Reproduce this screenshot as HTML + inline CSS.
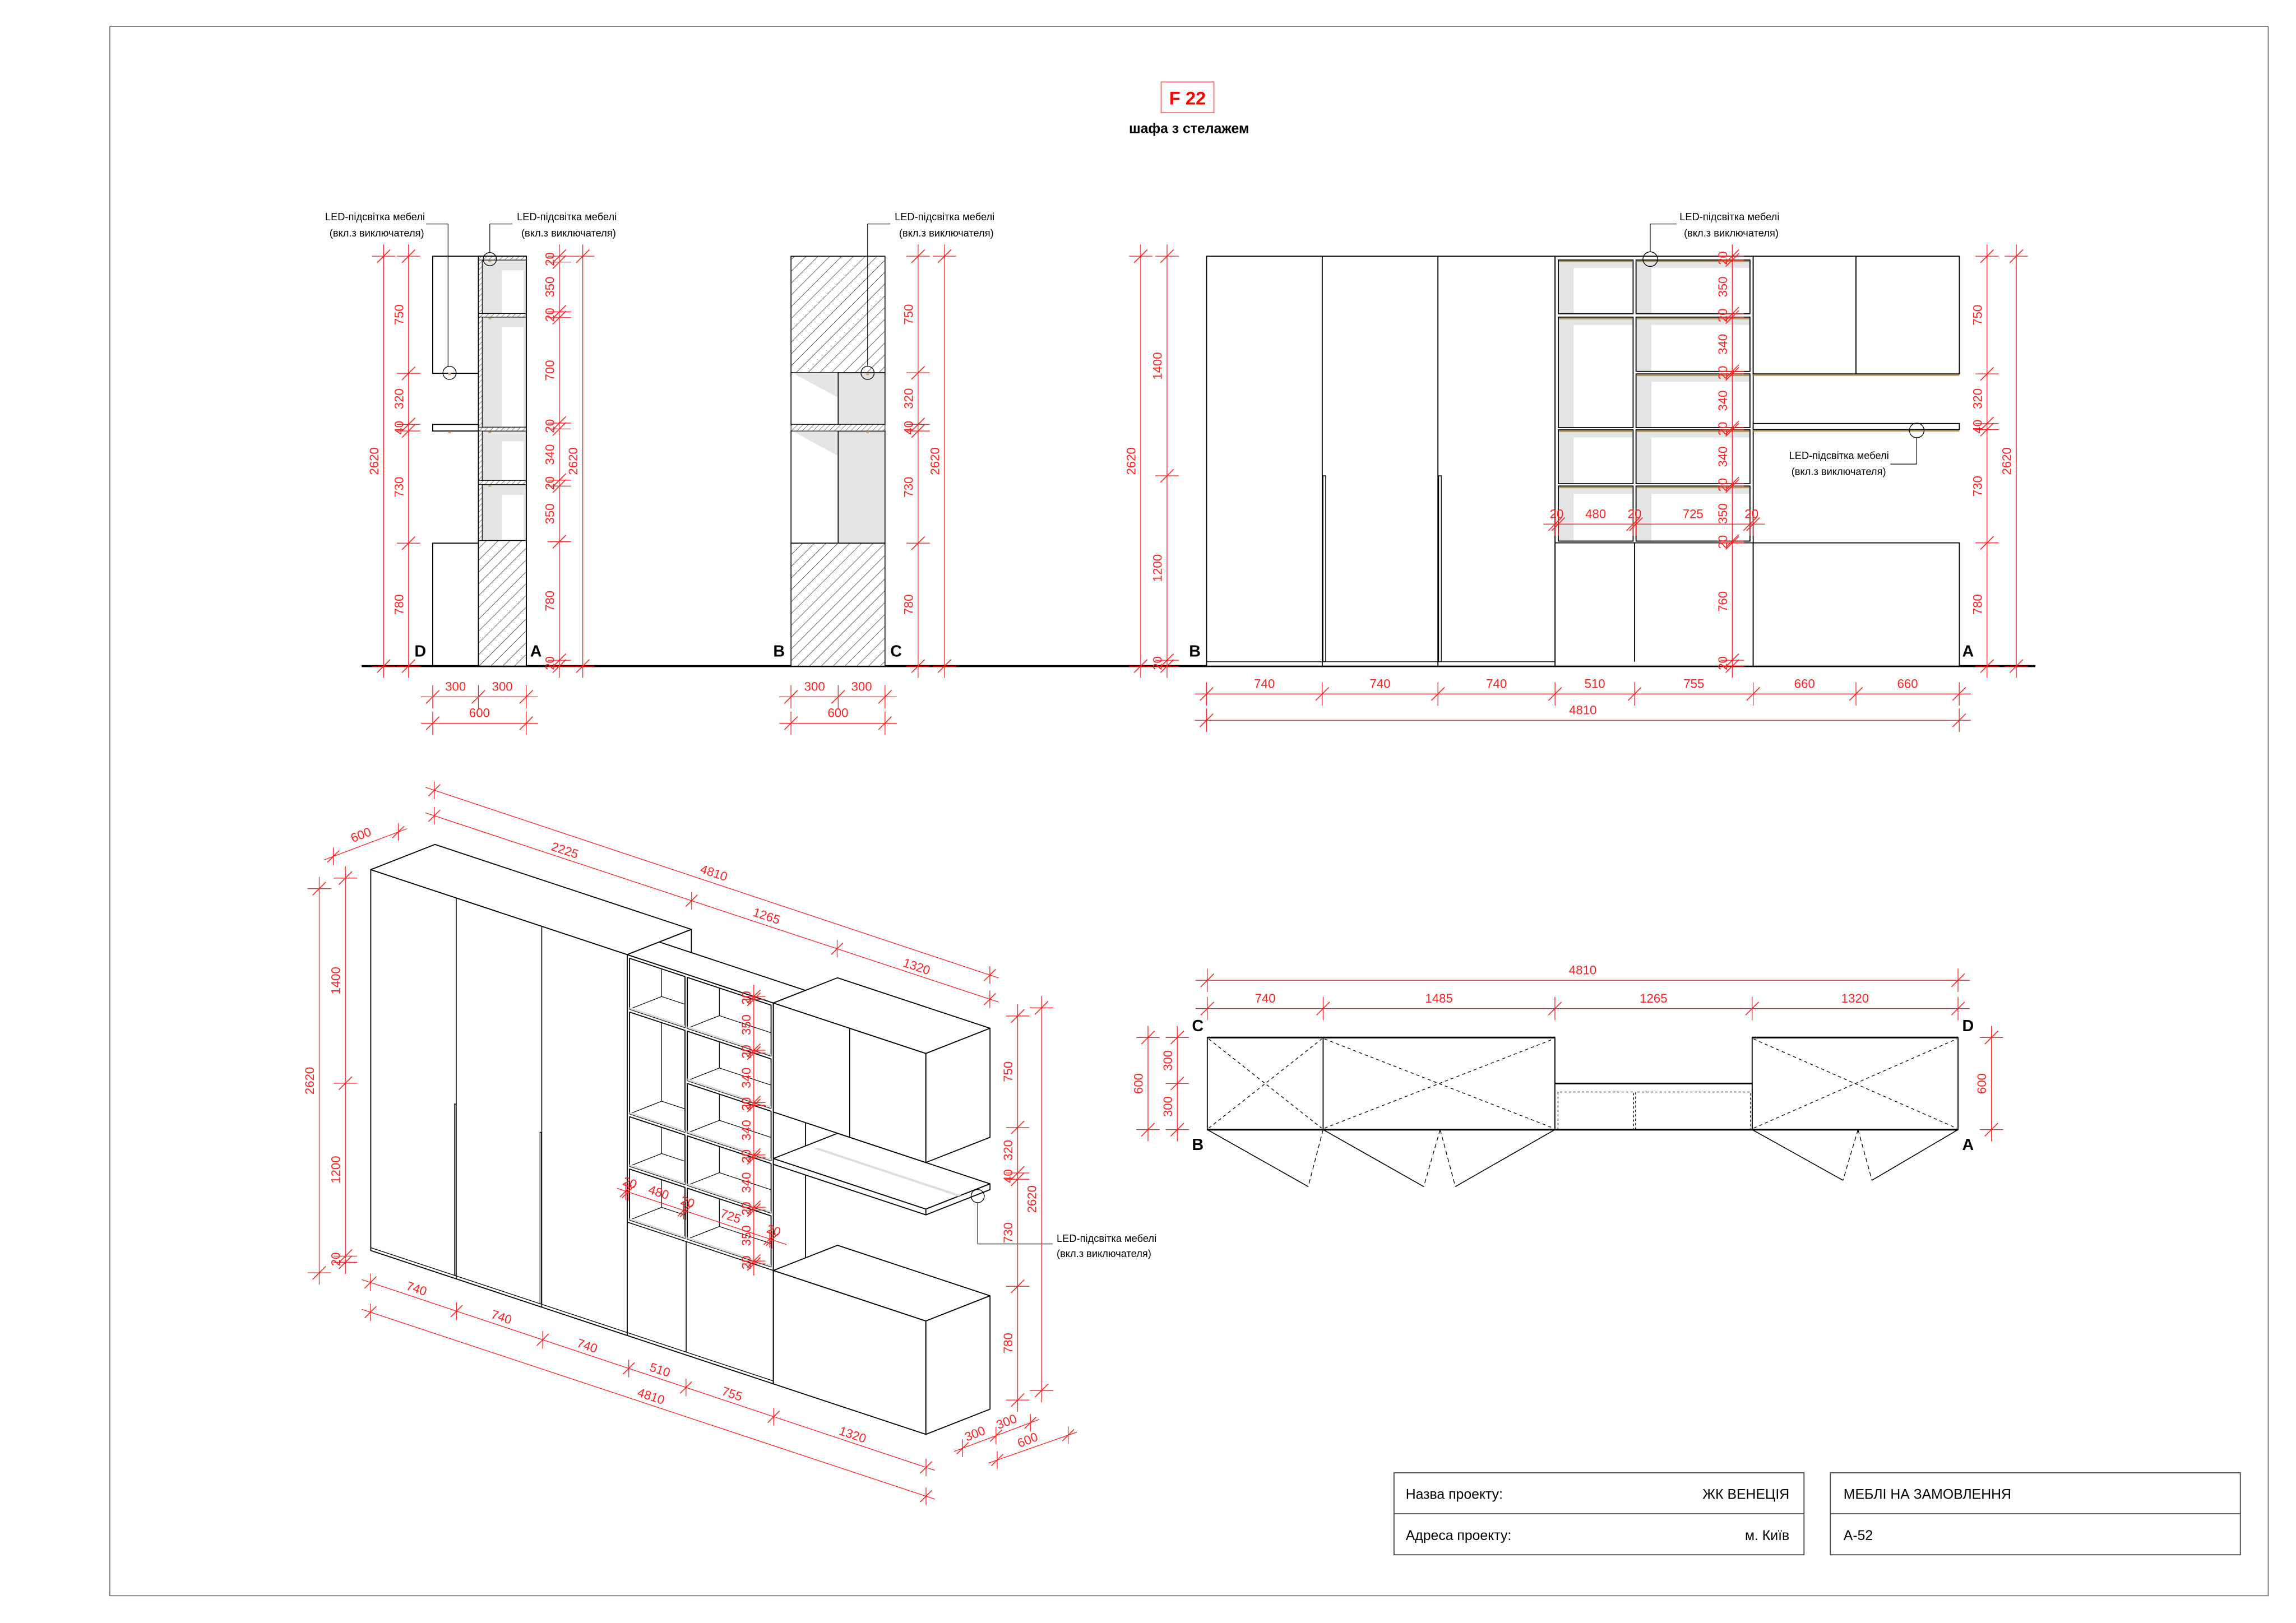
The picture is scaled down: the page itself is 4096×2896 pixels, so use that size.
<!DOCTYPE html>
<html><head><meta charset="utf-8">
<style>
html,body{margin:0;padding:0;background:#fff;}
svg{display:block;}
text{font-family:"Liberation Sans","DejaVu Sans",sans-serif;}
</style></head>
<body>
<svg id="s" xmlns="http://www.w3.org/2000/svg" width="4096" height="2896" viewBox="0 0 1568 1108.6" preserveAspectRatio="none">
<defs>
<pattern id="h" patternUnits="userSpaceOnUse" width="5.7" height="5.7" patternTransform="rotate(45)"><rect width="5.7" height="5.7" fill="#fff"/><line x1="0" y1="0" x2="0" y2="5.7" stroke="#000" stroke-width="0.45"/></pattern>
<pattern id="h2" patternUnits="userSpaceOnUse" width="2.6" height="2.6" patternTransform="rotate(45)"><rect width="2.6" height="2.6" fill="#fff"/><line x1="0" y1="0" x2="0" y2="2.6" stroke="#000" stroke-width="0.35"/></pattern>
</defs>
<rect x="0" y="0" width="1568" height="1108.6" fill="#fff"/>
<rect x="75" y="18" width="1474" height="1072" fill="none" stroke="#666" stroke-width="0.6"/>
<rect x="793" y="56" width="36" height="21" fill="none" stroke="#f66" stroke-width="0.7"/>
<text x="811" y="67" font-size="12.5" font-weight="bold" fill="#f00" text-anchor="middle" dominant-baseline="central">F 22</text>
<text x="812" y="88" font-size="9.5" font-weight="bold" fill="#000" text-anchor="middle" dominant-baseline="central">шафа з стелажем</text>
<!-- title block -->
<rect x="952" y="1006" width="280" height="56" fill="none" stroke="#444" stroke-width="0.7"/>
<line x1="952" y1="1034" x2="1232" y2="1034" stroke="#444" stroke-width="0.7"/>
<rect x="1250" y="1006" width="280" height="56" fill="none" stroke="#444" stroke-width="0.7"/>
<line x1="1250" y1="1034" x2="1530" y2="1034" stroke="#444" stroke-width="0.7"/>
<text x="960" y="1021" font-size="9.5" fill="#000" dominant-baseline="central">Назва проекту:</text>
<text x="1222" y="1021" font-size="9.5" fill="#000" text-anchor="end" dominant-baseline="central">ЖК ВЕНЕЦІЯ</text>
<text x="960" y="1049" font-size="9.5" fill="#000" dominant-baseline="central">Адреса проекту:</text>
<text x="1222" y="1049" font-size="9.5" fill="#000" text-anchor="end" dominant-baseline="central">м. Київ</text>
<text x="1259" y="1021" font-size="9.5" fill="#000" dominant-baseline="central">МЕБЛІ НА ЗАМОВЛЕННЯ</text>
<text x="1259" y="1049" font-size="9.5" fill="#000" dominant-baseline="central">А-52</text>
</svg>
<script>
const S=document.getElementById('s');
const NS='http://www.w3.org/2000/svg';
function E(t,a,p){const e=document.createElementNS(NS,t);for(const k in a)e.setAttribute(k,a[k]);(p||S).appendChild(e);return e;}
function L(x1,y1,x2,y2,c,w,d){const a={x1,y1,x2,y2,stroke:c||'#000','stroke-width':w||0.7};if(d)a['stroke-dasharray']=d;return E('line',a);}
function R(x,y,w,h,f,c,sw){return E('rect',{x,y,width:w,height:h,fill:f||'none',stroke:c||'#000','stroke-width':sw==null?0.7:sw});}
function T(x,y,s,o){o=o||{};const e=E('text',{x,y,'font-size':o.size||8.5,fill:o.fill||RED,'text-anchor':o.anchor||'middle','font-weight':o.weight||'normal','dominant-baseline':'central'});if(o.rot!=null)e.setAttribute('transform','rotate('+o.rot+' '+x+' '+y+')');e.textContent=s;return e;}
const RED='#ff1f1f';
function tk(x,y){L(x-4.5,y+4.5,x+4.5,y-4.5,RED,0.6);}
function vdim(x,ys,labs,off){off=off||-6.5;L(x,ys[0]-8,x,ys[ys.length-1]+8,RED,0.5);ys.forEach(y=>{tk(x,y);L(x-8,y,x+8,y,RED,0.5);});labs.forEach((s,i)=>{if(s)T(x+off,(ys[i]+ys[i+1])/2,s,{rot:-90});});}
function hdim(y,xs,labs){L(xs[0]-8,y,xs[xs.length-1]+8,y,RED,0.5);xs.forEach(x=>{tk(x,y);L(x,y-8,x,y+8,RED,0.5);});labs.forEach((s,i)=>{if(s)T((xs[i]+xs[i+1])/2,y-7,s);});}
function blk(x,y,s){T(x,y,s,{fill:'#000',weight:'bold',size:11});}
function led(x,y,lines,anchor){T(x,y,lines[0],{fill:'#000',size:7,anchor:anchor||'start'});T(x+(anchor==='end'?0:3),y+11,lines[1],{fill:'#000',size:7,anchor:anchor||'start'});}
const LT=['LED-підсвітка мебелі','(вкл.з виключателя)'];
function circ(x,y,r){E('circle',{cx:x,cy:y,r:r||4.5,fill:'none',stroke:'#000','stroke-width':0.5});}
function dot(x,y){R(x-1,y-0.7,2,1.4,'#c8a96e','none',0);}

// ground line
L(247,455,1390,455,'#000',1.4);

// ===== Elevation 1 (D-A)
R(295.5,175,31.2,80);R(295.5,289.9,31.2,4.5);R(295.5,371,31.2,84);
R(326.7,175,32.7,280,'#fff');
[[177.6,214.2],[216.6,291.8],[294.4,328.2],[331,369.2]].forEach(c=>{
 R(329.3,c[0],30.1,c[1]-c[0],'#e4e4e4','none',0);
 R(342.9,c[0]+7,14.6,c[1]-c[0]-7,'#fff','none',0);
 R(329.3,c[0],30.1,c[1]-c[0],'none','#000',0.5);
 dot(334.5,c[0]+0.8);
});
R(326.7,175,2.6,195,'url(#h2)','#000',0.4);
[[175,177.6],[214.2,216.6],[291.8,294.4],[328.2,331]].forEach(s=>R(326.7,s[0],32.7,s[1]-s[0],'url(#h2)','#000',0.4));
R(326.7,369.2,32.7,85.8,'url(#h)','#000',0.6);
R(326.7,175,32.7,280,'none','#000',0.7);
dot(307,255.5);dot(307,295.3);
circ(307,254.7);circ(334.5,177);
L(291,153,306,153,'#000',0.45);L(306,153,306,250.2,'#000',0.45);
L(334.5,172.5,334.5,153,'#000',0.45);L(334.5,153,350,153,'#000',0.45);
led(222,148,LT);led(353,148,LT);
blk(287,445,'D');blk(366,445,'A');
vdim(262,[175,455],['2620']);
vdim(279,[175,255,289.9,294.4,371,455],['750','320','40','730','780']);
vdim(382,[175,179,213,217,289,293,328,332,370,451,455],['20','350','20','700','20','340','20','350','780','20']);
vdim(398,[175,455],['2620']);
hdim(476,[295.5,326.7,359.4],['300','300']);
hdim(494,[295.5,359.4],['600']);

// ===== Elevation 2 (B-C)
R(540.2,175,64.2,79.6,'url(#h)','#000',0.6);
[[254.6,289.9],[294.4,371]].forEach(c=>{
 R(540.2,c[0],32.2,c[1]-c[0],'#fff','#000',0.6);
 E('polygon',{points:`541,${c[0]} 572.4,${c[0]} 572.4,${c[0]+17}`,fill:'#e4e4e4'});
 R(572.4,c[0],32,c[1]-c[0],'#e4e4e4','#000',0.6);
});
R(540.2,289.9,64.2,4.5,'url(#h2)','#000',0.4);
R(540.2,371,64.2,84,'url(#h)','#000',0.6);
dot(592.5,255.5);dot(592.5,295.2);
circ(592.5,254.7);
L(592.5,250.2,592.5,153,'#000',0.45);L(592.5,153,608,153,'#000',0.45);
led(611,148,LT);
blk(532,445,'B');blk(612,445,'C');
vdim(627,[175,254.6,289.9,294.4,371,455],['750','320','40','730','780']);
vdim(645,[175,455],['2620']);
hdim(476,[540.2,572.4,604.4],['300','300']);
hdim(494,[540.2,604.4],['600']);

// ===== Elevation 3 (B-A)
R(824,175,238,280,'#fff');
L(903,175,903,455);L(982,175,982,455);
R(903.5,325,1.8,127,'#fff','#000',0.5);R(982.5,325,1.8,127,'#fff','#000',0.5);
L(824,452,1197,452,'#000',0.5);
R(1062,175,135.3,280,'#fff');
function cell3(x0,x1,y0,y1){R(x0,y0,x1-x0,y1-y0,'#e4e4e4','none',0);R(x0+10.5,y0+5.3,x1-x0-10.5,y1-y0-5.3,'#fff','none',0);R(x0,y0,x1-x0,y1-y0,'none','#000',0.7);L(x0+0.5,y0+1,x1-0.5,y0+1,'#b39a5e',1);}
[[177.6,214.3],[216.6,292.1],[293.6,330.4],[332,369.6]].forEach(c=>cell3(1064.2,1115.3,c[0],c[1]));
[[177.6,214.3],[216.6,253.7],[255.4,292.1],[293.6,330.4],[332,369.6]].forEach(c=>cell3(1117.3,1195.1,c[0],c[1]));
L(1062,370.8,1197.3,370.8);L(1116.3,370.8,1116.3,452);
R(1197.3,175,140.8,80.4,'#fff');L(1267.5,175,1267.5,255.4);L(1197.3,256.2,1338,256.2,'#b39a5e',1);
R(1197.3,289.3,140.8,4.1,'#fff');L(1197.3,294.3,1338,294.3,'#b39a5e',1);
R(1197.3,370.8,140.8,84.2,'#fff');
circ(1127,177,5);L(1127,172,1127,153,'#000',0.45);L(1127,153,1145,153,'#000',0.45);
led(1147,148,LT);
circ(1309,294,5);L(1309,299,1309,317,'#000',0.45);L(1309,317,1291,317,'#000',0.45);
T(1290,311,LT[0],{fill:'#000',size:7,anchor:'end'});T(1288,322,LT[1],{fill:'#000',size:7,anchor:'end'});
blk(816,445,'B');blk(1344,445,'A');
vdim(779,[175,455],['2620']);
vdim(797,[175,325,451,455],['1400','1200','20']);
vdim(1183,[175,177.6,214.3,216.6,253.7,255.4,292.1,293.6,330.4,332,369.6,370.8,451,455],['20','350','20','340','20','340','20','340','20','350','20','760','20']);
vdim(1357,[175,255.4,289.3,293.4,370.8,455],['750','320','40','730','780']);
vdim(1377,[175,455],['2620']);
hdim(358,[1062,1064.2,1115.3,1117.3,1195.1,1197.3],['20','480','20','725','20']);
hdim(474,[824,903,982,1062,1116.3,1197.3,1267.5,1338],['740','740','740','510','755','660','660']);
hdim(492,[824,1338],['4810']);

// ===== Plan
const PT=708.7,PB=771.6;
R(824.5,PT,79.1,PB-PT,'#fff');R(903.6,PT,158.3,PB-PT,'#fff');R(1196.6,PT,140.6,PB-PT,'#fff');
L(824.5,PT,903.6,PT,'#000',1.2);L(903.6,PT,1061.9,PT,'#000',1.2);L(1196.6,PT,1337.2,PT,'#000',1.2);
R(1061.9,740.1,134.7,PB-740.1,'#fff');L(1061.9,740.1,1196.6,740.1,'#000',1.1);
L(824.5,PB,1337.2,PB,'#000',1.2);
const DS='2.2,2';
[[824.5,903.6],[903.6,1061.9],[1196.6,1337.2]].forEach(b=>{L(b[0]+1,PT+1,b[1]-1,PB-1,'#000',0.5,DS);L(b[0]+1,PB-1,b[1]-1,PT+1,'#000',0.5,DS);});
E('polyline',{points:'1064,771.6 1064,745.9 1115.6,745.9 1115.6,771.6',fill:'none',stroke:'#000','stroke-width':0.5,'stroke-dasharray':'1.6,1.4'});
E('polyline',{points:'1117,771.6 1117,745.9 1195.5,745.9 1195.5,771.6',fill:'none',stroke:'#000','stroke-width':0.5,'stroke-dasharray':'1.6,1.4'});
L(824.5,PB,893.4,810.5,'#000',0.6);L(903.6,PB,893.4,810.5,'#000',0.5,'3,2');
L(903.6,PB,972.3,810.5,'#000',0.6);L(983.5,PB,972.3,810.5,'#000',0.5,'3,2');
L(983.5,PB,993.9,810.5,'#000',0.5,'3,2');L(1061.9,PB,993.9,810.5,'#000',0.6);
L(1196.6,PB,1258.6,806.2,'#000',0.6);L(1268.9,PB,1258.6,806.2,'#000',0.5,'3,2');
L(1268.9,PB,1278.4,806.2,'#000',0.5,'3,2');L(1337.2,PB,1278.4,806.2,'#000',0.6);
blk(818,701,'C');blk(1344,701,'D');blk(818,782,'B');blk(1344,782,'A');
hdim(669.6,[824.5,1337.2],['4810']);
hdim(688.9,[824.5,903.6,1061.9,1196.6,1337.2],['740','1485','1265','1320']);
vdim(804,[PT,740.1,PB],['300','300']);
vdim(784,[PT,PB],['600']);
vdim(1360,[PT,PB],['600']);

// ===== Isometric
const P=(X,Y,Z)=>[253.2+0.0789*X+0.073*Y, 854.2+0.02613*X-0.0287*Y-0.0993*Z];
function PG(pts,f,c,w){return E('polygon',{points:pts.map(p=>p[0].toFixed(2)+','+p[1].toFixed(2)).join(' '),fill:f||'#fff',stroke:c||'#000','stroke-width':w||0.7,'stroke-linejoin':'round'});}
function IL(a,b,w,c,d){L(a[0],a[1],b[0],b[1],c||'#000',w||0.6,d);}
function box(x0,x1,y0,y1,z0,z1){PG([P(x0,y0,z0),P(x1,y0,z0),P(x1,y0,z1),P(x0,y0,z1)]);PG([P(x0,y0,z1),P(x1,y0,z1),P(x1,y1,z1),P(x0,y1,z1)]);PG([P(x1,y0,z0),P(x1,y1,z0),P(x1,y1,z1),P(x1,y0,z1)]);}
// wardrobe
box(0,2220,0,600,0,2620);
IL(P(740,0,0),P(740,0,2620));IL(P(1480,0,0),P(1480,0,2620));
IL(P(0,0,20),P(2220,0,20),0.5);
PG([P(725,0,20),P(737,0,20),P(737,0,1200),P(725,0,1200)],'#fff','#000',0.5);
PG([P(1465,0,20),P(1477,0,20),P(1477,0,1200),P(1465,0,1200)],'#fff','#000',0.5);
// shelving
box(2220,3485,0,300,0,2620);
IL(P(2220,0,20),P(3485,0,20),0.5);IL(P(2730,0,20),P(2730,0,780));
IL(P(2220,0,780),P(3485,0,780),0.6);
let cid=0;
function icell(x0,x1,z0,z1){
 const pts=[P(x0,0,z0),P(x1,0,z0),P(x1,0,z1),P(x0,0,z1)];
 PG(pts,'#fff','#000',0.7);
 const id='c'+(cid++);
 const cp=E('clipPath',{id});E('polygon',{points:pts.map(p=>p.join(',')).join(' ')},cp);
 const g=E('g',{'clip-path':'url(#'+id+')'});
 const ln=(a,b)=>E('line',{x1:a[0],y1:a[1],x2:b[0],y2:b[1],stroke:'#000','stroke-width':0.45},g);
 ln(P(x0,300,z0),P(x0,300,z1));ln(P(x0,0,z0),P(x0,300,z0));ln(P(x0,300,z0),P(x1+400,300,z0));
 E('polygon',{points:[P(x0,0,z0),P(x1,0,z0),P(x1,0,z0+14),P(x0,0,z0+14)].map(p=>p.join(',')).join(' '),fill:'#ddd'},g);
}
[[2250,2600],[1530,2230],[1170,1510],[800,1150]].forEach(c=>icell(2240,2720,c[0],c[1]));
[[2250,2600],[1890,2230],[1530,1870],[1170,1510],[800,1150]].forEach(c=>icell(2740,3465,c[0],c[1]));
// right units
box(3485,4805,0,600,0,780);
box(3485,4805,0,600,1510,1550);
box(3485,4805,0,600,1870,2620);
IL(P(4145,0,1870),P(4145,0,2620));
PG([P(3560,300,1550),P(4805,300,1550),P(4805,330,1550),P(3560,330,1550)],'#ddd','none',0);
// LED iso
circ(667.7,817,4.5);L(667.7,821.5,667.7,849.7,'#000',0.45);L(667.7,849.7,718.9,849.7,'#000',0.45);
T(721.6,845.8,LT[0],{fill:'#000',size:7,anchor:'start'});T(721.6,856.2,LT[1],{fill:'#000',size:7,anchor:'start'});

// iso dimensions
function seg(a,b){L(a[0],a[1],b[0],b[1],RED,0.5);}
function itk(x,y){L(x-4,y+4,x+4,y-4,RED,0.6);L(x,y-6,x,y+6,RED,0.5);}
const AL=18.3, AD=-21.5;
function lineTicks(a,b,xs){seg([a[0]-6,a[1]-6*(b[1]-a[1])/(b[0]-a[0])],[b[0]+6,b[1]+6*(b[1]-a[1])/(b[0]-a[0])]);xs.forEach(x=>{const y=a[1]+(x-a[0])*(b[1]-a[1])/(b[0]-a[0]);itk(x,y);});}
lineTicks([296.6,539.8],[676,666],[296.6,676]);T(487.5,596.2,'4810',{rot:AL});
lineTicks([296.6,557.2],[676,682.5],[296.6,472.3,571.7,676]);
T(385.8,580.8,'2225',{rot:AL});T(523.5,625.7,'1265',{rot:AL});T(626,660.2,'1320',{rot:AL});
lineTicks([227.6,585],[272,568.3],[227.6,272]);T(246.5,570.3,'600',{rot:AD});
// left verticals
vdim(218,[607,869.4],['2620']);
vdim(235.9,[599.8,739.9,858,862.2],['1400','1200','20']);
// bottom
lineTicks([253,876],[632.4,1002.3],[253,311.8,370.6,429.4,468.5,528.4,632.4]);
T(284.5,880.2,'740',{rot:AL});T(342.5,899.6,'740',{rot:AL});T(401,919.3,'740',{rot:AL});
T(450.7,935.7,'510',{rot:AL});T(500,952.1,'755',{rot:AL});T(582.3,980,'1320',{rot:AL});
lineTicks([253,896.3],[632.4,1022],[253,632.4]);T(444.6,953.7,'4810',{rot:AL});
// right verticals
vdim(695,[694,770.1,801.2,805.5,878.6,956.3],['750','320','40','730','780']);
vdim(711.3,[688.4,949.8],['2620']);
lineTicks([657.4,989.2],[703.7,971.8],[657.4,680.2,703.7]);
T(665.8,979.3,'300',{rot:AD});T(687.4,971.1,'300',{rot:AD});
lineTicks([681,997.3],[729.5,980.3],[681,729.5]);T(701.8,983.6,'600',{rot:AD});
// shelving internal dims
(function(){const x=514.8;const zs=[2620,2600,2250,2230,1890,1870,1530,1510,1170,1150,800,780];const ys=zs.map(z=>940.8-0.0993*z);
vdim(x,ys,['20','350','20','340','20','340','20','340','20','350','20'],-5);})();
(function(){const X=[2220,2240,2720,2740,3465,3485];const xs=X.map(v=>253.2+0.0789*v-1);const y0=813.7;const fy=x=>y0+(x-427.5)*0.3312;
lineTicks([427.5,813.7],[531.1,848.1],xs);
const labs=['20','480','20','725','20'];labs.forEach((s,i)=>{const mx=(xs[i]+xs[i+1])/2;T(mx+2,fy(mx)-6,s,{rot:AL});});})();
</script>
</body></html>
